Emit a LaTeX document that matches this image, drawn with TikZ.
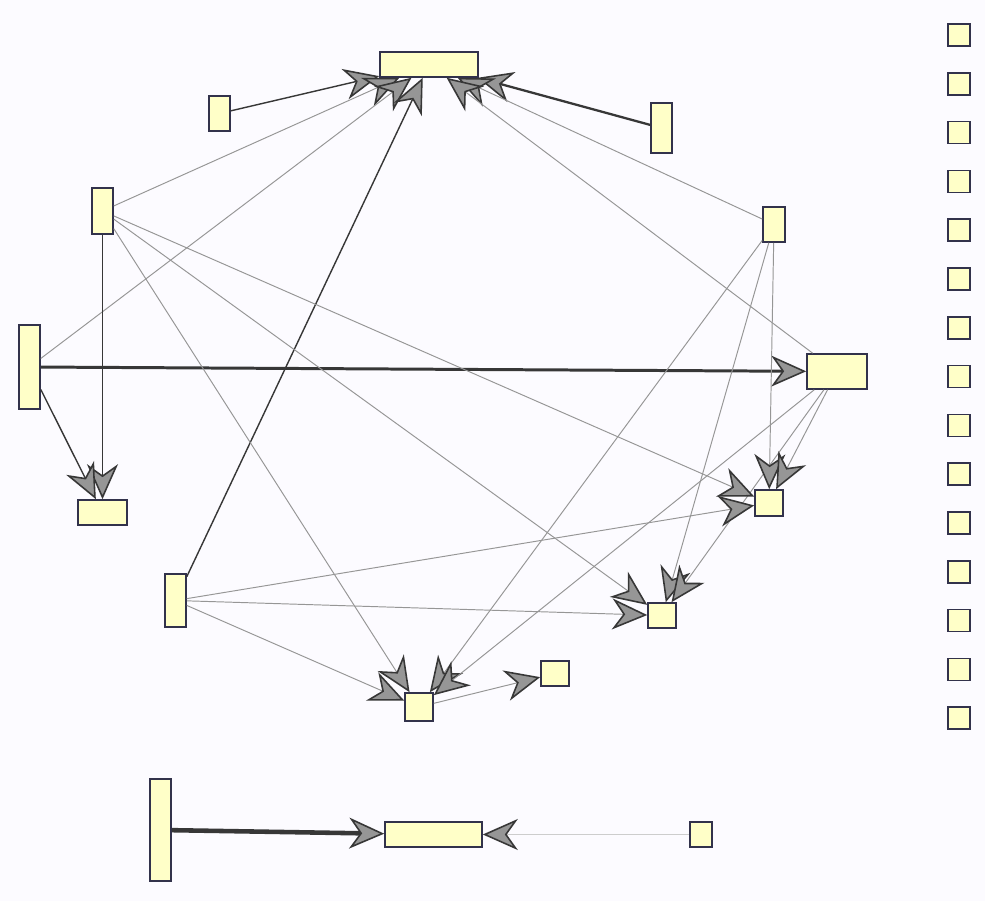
\documentclass[tikz,border=0pt]{standalone}
\usetikzlibrary{arrows.meta}
\definecolor{bgcol}{RGB}{252,251,255}
\definecolor{boxfill}{RGB}{255,255,200}
\definecolor{boxline}{RGB}{50,50,75}
\definecolor{tipfill}{RGB}{150,150,150}
\definecolor{tipline}{RGB}{55,55,55}
\definecolor{edgelight}{RGB}{150,150,150}
\definecolor{edgedark}{RGB}{55,55,55}
\definecolor{edgefaint}{RGB}{205,205,205}
\begin{document}
\begin{tikzpicture}[x=0.2mm,y=-0.2mm]
\tikzstyle{block}=[draw=boxline,fill=boxfill,line width=0.9pt,inner sep=0pt]
\tikzstyle{arr}=[-{Stealth[length=7mm,width=6.2mm,inset=2.2mm,fill=tipfill,color=tipline,line width=0.9pt]}]
\tikzstyle{light}=[arr,draw=edgelight,line width=0.55pt]
\tikzstyle{mid}=[arr,draw=edgedark,line width=0.8pt]
\tikzstyle{heavy}=[arr,draw=edgedark,line width=1.3pt]

\fill[bgcol] (0,0) rectangle (985,901);

% nodes of the ring
\node[block,minimum width=19.6mm,minimum height=5mm] (t) at (429,64.5) {};
\node[block,minimum width=4.2mm,minimum height=7mm] (a) at (219.5,113.5) {};
\node[block,minimum width=4.2mm,minimum height=9.2mm] (b) at (102.5,211) {};
\node[block,minimum width=4.2mm,minimum height=16.8mm] (c) at (29.5,367) {};
\node[block,minimum width=9.8mm,minimum height=5mm] (d) at (102.5,512.5) {};
\node[block,minimum width=4.2mm,minimum height=10.6mm] (e) at (175.5,600.5) {};
\node[block,minimum width=5.6mm,minimum height=5.6mm] (f) at (419,707) {};
\node[block,minimum width=5.6mm,minimum height=5mm] (g) at (555,673.5) {};
\node[block,minimum width=5.6mm,minimum height=5mm] (h) at (662,615.5) {};
\node[block,minimum width=5.6mm,minimum height=5.2mm] (i) at (769,503) {};
\node[block,minimum width=12mm,minimum height=7mm] (j) at (837,371.5) {};
\node[block,minimum width=4.4mm,minimum height=7mm] (k) at (774,224.5) {};
\node[block,minimum width=4.2mm,minimum height=10mm] (l) at (661.5,128) {};

% the pair at the bottom
\node[block,minimum width=4.2mm,minimum height=20.4mm] (m) at (160.5,830) {};
\node[block,minimum width=19.4mm,minimum height=5mm] (n) at (433.5,834.5) {};
\node[block,minimum width=4.4mm,minimum height=5mm] (o) at (701,834.5) {};

% loose nodes
\foreach \k in {0,...,14}
{
  \node[block,minimum width=4.4mm,minimum height=4.4mm] (s\k) at (959,{35+48.8*\k}) {};
}

\draw[mid] (a) -- (t);
\draw[light] (b) -- (t);
\draw[light] (c) -- (t);
\draw[mid] (e) -- (t);
\draw[heavy] (l) -- (t);
\draw[light] (k) -- (t);
\draw[light] (j) -- (t);

\draw[mid] (b) -- (d);
\draw[mid] (c) -- (d);
\draw[arr,draw=edgedark,line width=1.7pt] (c) -- (j);

\foreach \to in {f,h,i}
{
  \draw[light] (b) -- (\to);
  \draw[light] (e) -- (\to);
  \draw[light] (k) -- (\to);
  \draw[light] (j) -- (\to);
}
\draw[light] (f) -- (g);

\draw[arr,draw=edgedark,line width=2.6pt] (m) -- (n);
\draw[arr,draw=edgefaint,line width=1pt] (o) -- (n);

\end{tikzpicture}
\end{document}
